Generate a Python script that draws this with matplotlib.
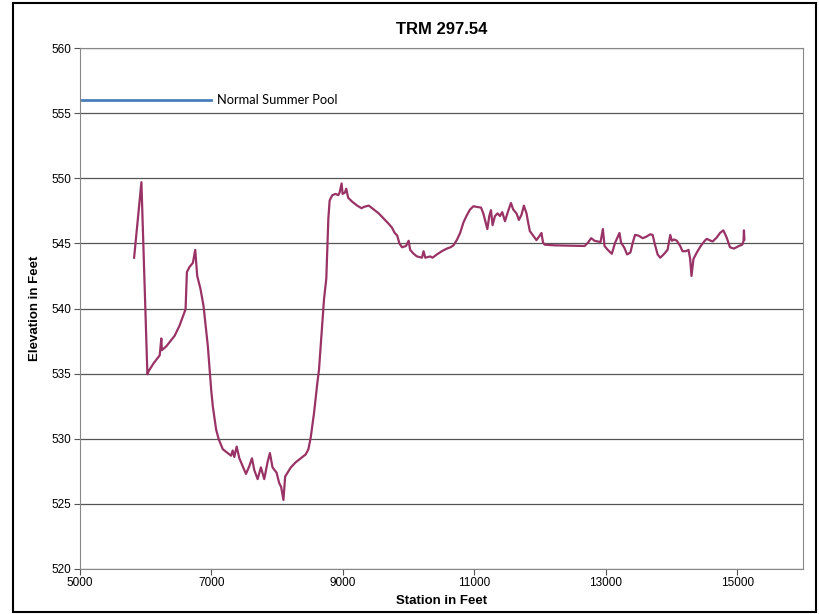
import matplotlib.pyplot as plt
from matplotlib.patches import Rectangle

# Bottom profile, station (ft) vs elevation (ft)
station = [5823, 5934, 6025, 6045, 6120, 6212, 6237, 6245, 6313, 6439, 6515, 6606,
           6626, 6667, 6717, 6753, 6783, 6833, 6879, 6945, 6995, 7020, 7071, 7111,
           7172, 7248, 7298, 7323, 7348, 7383, 7424, 7474, 7525, 7576, 7616, 7651,
           7702, 7752, 7803, 7853, 7889, 7929, 7990, 8030, 8060, 8095, 8121, 8146,
           8207, 8283, 8359, 8434, 8475, 8510, 8561, 8611, 8636, 8712, 8747, 8778,
           8798, 8838, 8889, 8929, 8949, 8980, 8995, 9030, 9050, 9080, 9141, 9217,
           9283, 9318, 9394, 9470, 9545, 9621, 9697, 9747, 9788, 9826, 9859, 9899,
           9960, 10000, 10023, 10076, 10126, 10202, 10227, 10253, 10328, 10364, 10429,
           10505, 10580, 10636, 10682, 10732, 10783, 10833, 10884, 10934, 10985,
           11035, 11101, 11136, 11171, 11197, 11227, 11252, 11277, 11313, 11353,
           11389, 11424, 11465, 11515, 11556, 11591, 11641, 11677, 11717, 11753,
           11793, 11818, 11843, 11894, 11944, 11995, 12020, 12045, 12071, 12222,
           12677, 12727, 12777, 12828, 12919, 12955, 12980, 13030, 13091, 13141,
           13207, 13232, 13283, 13323, 13374, 13409, 13444, 13495, 13561, 13611,
           13677, 13712, 13747, 13788, 13828, 13879, 13939, 13980, 14005, 14040,
           14081, 14131, 14166, 14217, 14258, 14283, 14303, 14333, 14384, 14444,
           14505, 14535, 14596, 14626, 14687, 14737, 14788, 14838, 14889, 14949,
           15025, 15076, 15095, 15101, 15108]
elevation = [543.9, 549.7, 534.95, 535.2, 535.8, 536.4, 537.7, 536.8, 537.1, 537.9, 538.7, 539.95,
             542.8, 543.2, 543.5, 544.5, 542.5, 541.5, 540.2, 537.1, 533.8, 532.5, 530.7, 529.95,
             529.2, 528.9, 528.7, 529.1, 528.6, 529.4, 528.5, 527.9, 527.3, 527.9, 528.5, 527.6,
             526.9, 527.8, 526.9, 528.2, 528.9, 527.8, 527.4, 526.6, 526.3, 525.3, 527.1, 527.3,
             527.8, 528.2, 528.5, 528.8, 529.2, 530.1, 532.0, 534.3, 535.3, 540.7, 542.3, 546.9,
             548.3, 548.7, 548.8, 548.7, 548.9, 549.6, 548.8, 548.9, 549.2, 548.5, 548.2, 547.9,
             547.7, 547.8, 547.9, 547.6, 547.3, 546.9, 546.5, 546.2, 545.8, 545.6, 545.0, 544.7,
             544.8, 545.2, 544.5, 544.2, 544.0, 543.9, 544.4, 543.9, 544.0, 543.9, 544.15,
             544.4, 544.6, 544.7, 544.85, 545.25, 545.8, 546.6, 547.15, 547.6, 547.85,
             547.8, 547.75, 547.3, 546.6, 546.1, 547.1, 547.55, 546.4, 547.1, 547.3,
             547.1, 547.4, 546.7, 547.5, 548.1, 547.6, 547.3, 546.8, 547.2, 547.9,
             547.3, 546.6, 545.95, 545.6, 545.25, 545.6, 545.8, 545.05, 544.9, 544.85,
             544.8, 545.05, 545.4, 545.2, 545.1, 546.1, 544.8, 544.5, 544.2, 545.05,
             545.8, 545.05, 544.65, 544.15, 544.3, 545.05, 545.65, 545.6, 545.4, 545.5,
             545.7, 545.65, 544.9, 544.15, 543.9, 544.15, 544.5, 545.65, 545.2, 545.3,
             545.2, 544.8, 544.4, 544.4, 544.5, 543.8, 542.5, 543.8, 544.3, 544.8,
             545.2, 545.35, 545.2, 545.15, 545.45, 545.8, 546.0, 545.45, 544.7, 544.6,
             544.8, 544.9, 545.2, 546.0, 545.3]

pool_station = [5000, 7000]
pool_elevation = [556, 556]

x_ticks = [5000, 7000, 9000, 11000, 13000, 15000]
y_ticks = [520, 525, 530, 535, 540, 545, 550, 555, 560]

plt.rcParams['font.family'] = ['Liberation Sans', 'DejaVu Sans']

fig = plt.figure(figsize=(8.19, 6.14), dpi=100)
ax = fig.add_axes([0.0977, 0.0733, 0.8828, 0.8485])

ax.plot(pool_station, pool_elevation, color='#4a7ebb', lw=2)
ax.text(7080, 556, 'Normal Summer Pool', fontsize=9.3, va='center', ha='left',
        family=['Lato', 'DejaVu Sans'])
ax.plot(station, elevation, color='#993366', lw=1.6)

ax.set_xlim(5000, 16000)
ax.set_ylim(520, 560)
ax.set_xticks(x_ticks)
ax.set_yticks(y_ticks)
ax.grid(axis='y', color='#555555', lw=0.9)
ax.set_axisbelow(True)
ax.tick_params(labelsize=8.5, length=4, color='#555555', pad=2)
for s in ax.spines.values():
    s.set_color('#888888')

ax.set_title('TRM 297.54', fontsize=12, fontweight='bold', pad=10)
ax.set_xlabel('Station in Feet', fontsize=9.5, fontweight='bold', labelpad=4)
ax.set_ylabel('Elevation in Feet', fontsize=9.5, fontweight='bold', labelpad=8)

# outer chart frame
fig.patches.append(Rectangle((13 / 819, 2 / 614), 803 / 819, 609 / 614,
                             transform=fig.transFigure, fill=False,
                             edgecolor='black', lw=1.5))

fig.savefig('out.png', dpi=100)
